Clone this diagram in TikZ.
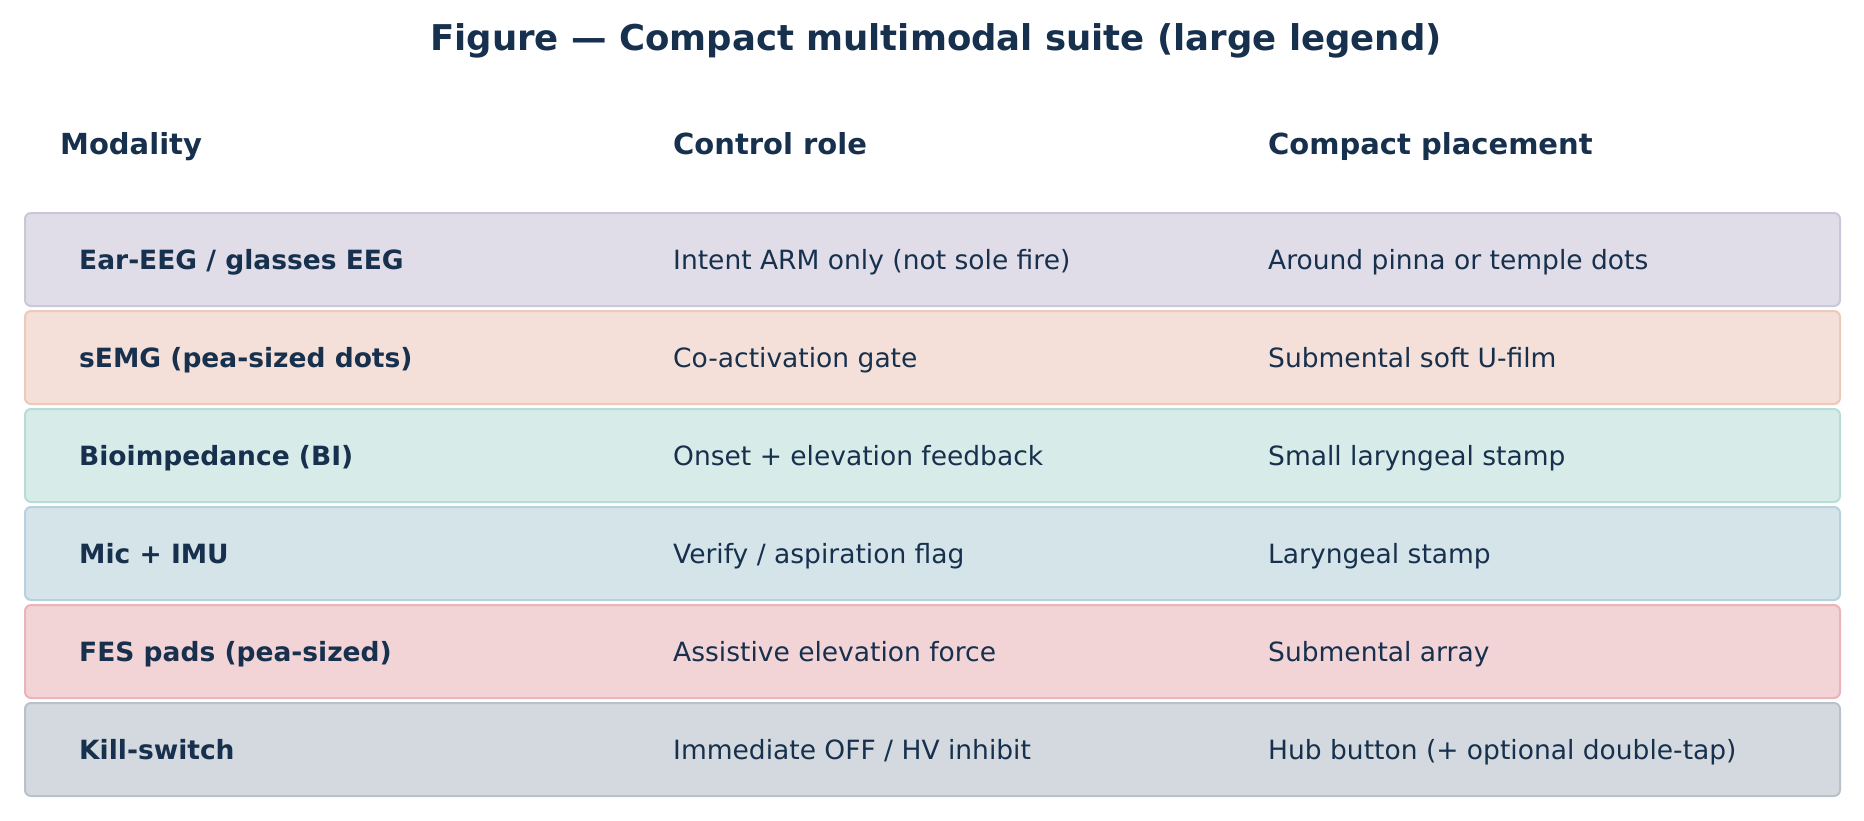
\documentclass[tikz,border=0pt]{standalone}
\usepackage{fontspec}
\setmainfont{DejaVu Sans}
\definecolor{ink}{HTML}{16304D}
\definecolor{fA}{HTML}{E0DDE8}\definecolor{bA}{HTML}{CBC7DA}
\definecolor{fB}{HTML}{F4E0D8}\definecolor{bB}{HTML}{EEC8B8}
\definecolor{fC}{HTML}{D7ECE9}\definecolor{bC}{HTML}{B6DDD6}
\definecolor{fD}{HTML}{D5E4E9}\definecolor{bD}{HTML}{B8D1DB}
\definecolor{fE}{HTML}{F2D3D6}\definecolor{bE}{HTML}{EAB4BA}
\definecolor{fF}{HTML}{D3D9DE}\definecolor{bF}{HTML}{B9C2CB}
\tikzset{
  rowbox/.style={line width=2pt, rounded corners=6pt},
  titletext/.style={anchor=base, text=ink, font=\fontsize{35.5}{42}\selectfont\bfseries, inner sep=0pt},
  headtext/.style={anchor=base west, text=ink, font=\fontsize{29}{35}\selectfont\bfseries, inner sep=0pt},
  celltext/.style={anchor=base west, text=ink, font=\fontsize{26.5}{32}\selectfont, inner sep=0pt},
  boldcell/.style={celltext, font=\fontsize{26.5}{32}\selectfont\bfseries},
}
\begin{document}
\begin{tikzpicture}[x=1pt,y=-1pt]
\useasboundingbox (0,0) rectangle (1864,820);
\node[titletext] (title) at (936,50) {Figure — Compact multimodal suite (large legend)};
\node[headtext] (h1) at (60,154) {Modality};
\node[headtext] (h2) at (673,154) {Control role};
\node[headtext] (h3) at (1268,154) {Compact placement};
\foreach \i/\f/\b/\m/\r/\p in {
  0/fA/bA/{Ear-EEG / glasses EEG}/{Intent ARM only (not sole fire)}/{Around pinna or temple dots},
  1/fB/bB/{sEMG (pea-sized dots)}/{Co-activation gate}/{Submental soft U-film},
  2/fC/bC/{Bioimpedance (BI)}/{Onset + elevation feedback}/{Small laryngeal stamp},
  3/fD/bD/{Mic + IMU}/{Verify / aspiration flag}/{Laryngeal stamp},
  4/fE/bE/{FES pads (pea-sized)}/{Assistive elevation force}/{Submental array},
  5/fF/bF/{Kill-switch}/{Immediate OFF / HV inhibit}/{Hub button (+ optional double-tap)}}{
  \pgfmathsetmacro{\top}{213+98*\i}
  \draw[rowbox, fill=\f, draw=\b] (25,\top) rectangle (1840,\top+93);
  \node[boldcell] (m\i) at (79,\top+56) {\m};
  \node[celltext] (r\i) at (673,\top+56) {\r};
  \node[celltext] (p\i) at (1268,\top+56) {\p};
}
\end{tikzpicture}
\end{document}
